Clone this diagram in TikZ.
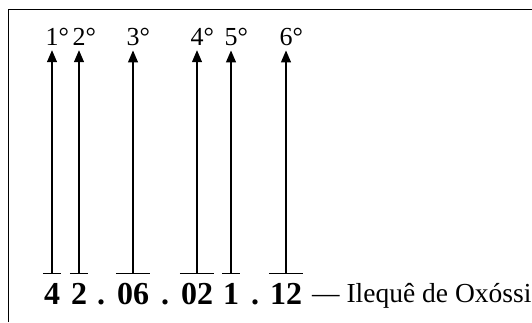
\documentclass[tikz,border=0pt]{standalone}
\usepackage{fontspec}
\setmainfont{Liberation Serif}
\usetikzlibrary{arrows.meta, positioning}

\tikzset{
  group/.style = {font=\fontsize{32bp}{36bp}\selectfont\bfseries,
    inner xsep=1bp, inner ysep=9bp, anchor=base},
  sep/.style = {font=\fontsize{32bp}{36bp}\selectfont\bfseries,
    inner sep=0pt, anchor=base},
  rank/.style = {font=\fontsize{26bp}{30bp}\selectfont,
    inner xsep=0pt, inner ysep=5bp, anchor=base},
  bar/.style = {line width=1.2bp},
  pointer/.style = {line width=1.2bp, -{Triangle[length=12bp, width=10bp]}}
}

\begin{document}
\begin{tikzpicture}[x=1bp, y=-1bp]
  \useasboundingbox (0,0) rectangle (532,322);
  \draw[line width=1.3bp] (8.5,322) -- (8.5,9.5) -- (532,9.5);

  % the number, group by group
  \node[group] (g1) at (52,304) {4};
  \node[group] (g2) at (79,304) {2};
  \node[sep]   (s1) at (101,304) {.};
  \node[group] (g3) at (133,304) {06};
  \node[sep]   (s2) at (165,304) {.};
  \node[group] (g4) at (197,304) {02};
  \node[group] (g5) at (231,304) {1};
  \node[sep]   (s3) at (255,304) {.};
  \node[group] (g6) at (286,304) {12};
  \node[anchor=base west, font=\fontsize{27.5bp}{32bp}\selectfont, inner sep=0pt]
    (name) at (312,302) {— Ilequê de Oxóssi};

  % the ranks
  \node[rank] (r1) at (52,45) {1\rlap{°}};
  \node[rank] (r2) at (79,45) {2\rlap{°}};
  \node[rank] (r3) at (133,45) {3\rlap{°}};
  \node[rank] (r4) at (197,45) {4\rlap{°}};
  \node[rank] (r5) at (231,45) {5\rlap{°}};
  \node[rank] (r6) at (286,45) {6\rlap{°}};

  \foreach \i in {1,...,6} {
    \draw[bar] (g\i.north west) -- (g\i.north east);
    \draw[pointer] (g\i.north) -- (r\i.south);
  }
\end{tikzpicture}
\end{document}
